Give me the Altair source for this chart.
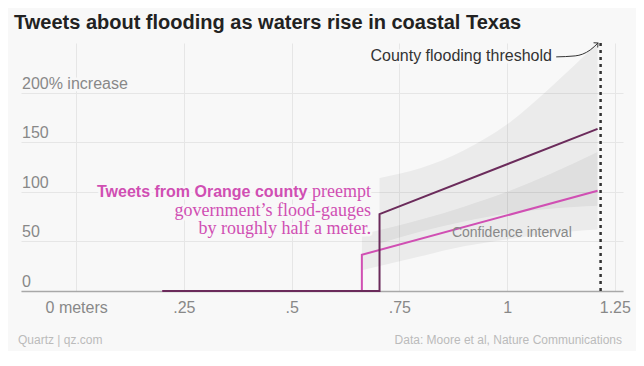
import altair as alt
import pandas as pd

# ---- data ----
dark_x = [0.20, 0.704, 0.704, 1.21]
dark_y = [0, 0, 77.5, 163.5]
pink_x = [0.20, 0.663, 0.663, 1.21]
pink_y = [0, 0, 36.5, 101]

ci_dark_x = [0.704, 0.8, 0.9, 1.0, 1.1, 1.21]
ci_dark_lo = [48, 60, 70, 78, 83, 86]
ci_dark_hi = [114, 124, 142, 168, 205, 250]
ci_pink_x = [0.663, 0.8, 0.9, 1.0, 1.1, 1.21]
ci_pink_lo = [21, 35, 45, 52, 58, 62]
ci_pink_hi = [57, 72, 85, 100, 118, 140]

threshold_x = [1.217]

x_ticks = [0, 0.25, 0.5, 0.75, 1, 1.25]
y_ticks = [0, 50, 100, 150, 200]
y_labels = ["0", "50", "100", "150", "200% increase"]

arrow_x = [1.114, 1.158, 1.193, 1.211]
arrow_y = [236, 237, 243, 250]

# ---- styles ----
BG = "#f8f8f8"
DARK = "#6b2b5b"
PINK = "#d04fb3"
SANS = "Liberation Sans"
SERIF = "Liberation Serif"

xscale = alt.Scale(domain=[-0.128, 1.269], nice=False, zero=False)
yscale = alt.Scale(domain=[0, 250], nice=False)
xaxis = alt.Axis(values=x_ticks, grid=True, gridColor="#e6e6e6", ticks=False,
                 domainColor="#a8a8a8", domainWidth=1.5, labelFont=SANS,
                 labelFontSize=16, labelColor="#888888", labelPadding=8,
                 title=None,
                 labelExpr="datum.value == 0 ? '0 meters' : (datum.value < 1 ? substring(format(datum.value, '.2~f'), 1) : format(datum.value, '.2~f'))")
yaxis = alt.Axis(values=y_ticks, grid=True, gridColor="#e6e6e6", ticks=False,
                 domain=False, labels=False, title=None)


def X(f):
    return alt.X(f, type="quantitative", scale=xscale, axis=xaxis)


def Y(f):
    return alt.Y(f, type="quantitative", scale=yscale, axis=yaxis)


def text_layer(df, enc, halo=True, **props):
    out = []
    if halo:
        out.append(alt.Chart(df).mark_text(stroke=BG, strokeWidth=5,
                                           strokeJoin="round", **props).encode(**enc))
    out.append(alt.Chart(df).mark_text(**props).encode(**enc))
    return out


ci_dark = pd.DataFrame({"x": ci_dark_x, "lo": ci_dark_lo, "hi": ci_dark_hi})
ci_pink = pd.DataFrame({"x": ci_pink_x, "lo": ci_pink_lo, "hi": ci_pink_hi})

bands = [
    alt.Chart(d).mark_area(color="#000000", opacity=0.05, interpolate="monotone")
    .encode(x=X("x"), y=Y("lo"), y2="hi")
    for d in (ci_pink, ci_dark)
]

pink_line = alt.Chart(pd.DataFrame({"x": pink_x, "y": pink_y, "o": range(4)})).mark_line(
    color=PINK, strokeWidth=2).encode(x=X("x"), y=Y("y"), order="o")
dark_line = alt.Chart(pd.DataFrame({"x": dark_x, "y": dark_y, "o": range(4)})).mark_line(
    color=DARK, strokeWidth=2).encode(x=X("x"), y=Y("y"), order="o")

thr = alt.Chart(pd.DataFrame({"x": threshold_x, "y0": [0]})).mark_rule(
    color="#333333", strokeWidth=2.5, strokeDash=[3, 4]).encode(
    x=X("x"), y=Y("y0"), y2=alt.value(-3))

arrow_df = pd.DataFrame({"x": arrow_x, "y": arrow_y, "o": range(len(arrow_x))})
arrow = alt.Chart(arrow_df).mark_line(color="#333333", strokeWidth=1,
                                      interpolate="monotone", clip=False).encode(
    x=X("x"), y=Y("y"), order="o")
head = alt.Chart(arrow_df.tail(1)).mark_point(
    shape="M -1 1 L 0 0 L 1 1", filled=False, color="#333333", strokeWidth=1,
    size=40, angle=49, opacity=1, clip=False).encode(x=X("x"), y=Y("y"))

layers = bands + [pink_line, dark_line, thr, arrow, head]

# y labels
ylab = pd.DataFrame({"v": y_ticks, "t": y_labels})
layers += text_layer(ylab, dict(x=alt.value(1), y=Y("v"), text="t"),
                     align="left", baseline="alphabetic", dy=-4, font=SANS,
                     fontSize=16, color="#888888")

# annotations
ann_thr = pd.DataFrame({"x": [1.104], "y": [232], "t": ["County flooding threshold"]})
layers += text_layer(ann_thr, dict(x=X("x"), y=Y("y"), text="t"),
                     align="right", baseline="alphabetic", font=SANS, fontSize=16,
                     color="#333333")

ann_ci = pd.DataFrame({"x": [0.872], "y": [54.4], "t": ["Confidence interval"]})
layers += text_layer(ann_ci, dict(x=X("x"), y=Y("y"), text="t"), halo=False,
                     align="left", baseline="alphabetic", font=SANS, fontSize=14,
                     color="#888888")

ann_bold = pd.DataFrame({"x": [0.684], "y": [94.8], "t": ["Tweets from Orange county"]})
layers += text_layer(ann_bold, dict(x=X("x"), y=Y("y"), text="t"),
                     align="right", baseline="alphabetic", dx=-63.5, font=SANS,
                     fontSize=16, fontWeight="bold", color=PINK)

ann_serif = pd.DataFrame({"x": [0.684, 0.684, 0.684], "y": [94.8, 76.1, 57.5],
                          "t": ["preempt", "government’s flood-gauges", "by roughly half a meter."]})
layers += text_layer(ann_serif, dict(x=X("x"), y=Y("y"), text="t"),
                     align="right", baseline="alphabetic", font=SERIF, fontSize=18,
                     color=PINK)

# title & footer
meta = pd.DataFrame({"t": ["Tweets about flooding as waters rise in coastal Texas"]})
layers.append(alt.Chart(meta).mark_text(align="left", baseline="alphabetic", font=SANS,
                                        fontSize=20, fontWeight="bold", color="#222222")
              .encode(x=alt.value(-7), y=alt.value(-14), text="t"))
foot_l = pd.DataFrame({"t": ["Quartz | qz.com"]})
layers.append(alt.Chart(foot_l).mark_text(align="left", baseline="alphabetic", font=SANS,
                                          fontSize=12, color="#bbbbbb")
              .encode(x=alt.value(-3), y=alt.value(301), text="t"))
foot_r = pd.DataFrame({"t": ["Data: Moore et al, Nature Communications"]})
layers.append(alt.Chart(foot_r).mark_text(align="right", baseline="alphabetic", font=SANS,
                                          fontSize=12, color="#bbbbbb")
              .encode(x=alt.value(601), y=alt.value(301), text="t"))

chart = alt.layer(*layers).properties(
    width=602, height=248, background=BG,
    padding={"left": 13, "top": 35, "right": 13, "bottom": 60},
    autosize=alt.AutoSizeParams(type="none"),
).configure_view(stroke=None)

chart.save("out.html", embed_options={"renderer": "svg", "actions": False})
